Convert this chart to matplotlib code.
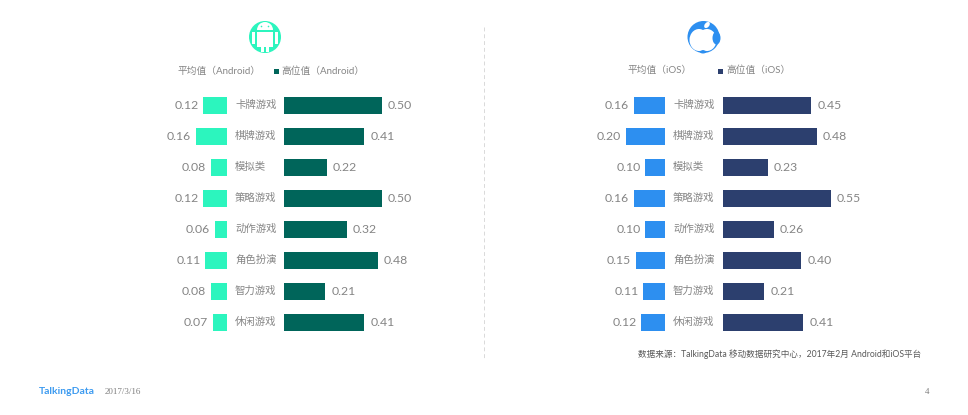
# encoding: UTF-8
import matplotlib
matplotlib.use('Agg')
import matplotlib.pyplot as plt
from matplotlib.patches import Circle, Ellipse, Rectangle, Wedge

plt.rcParams['font.family'] = ['Lato', 'Noto Sans CJK SC', 'DejaVu Sans']

categories = ['卡牌游戏', '棋牌游戏', '模拟类', '策略游戏', '动作游戏', '角色扮演', '智力游戏', '休闲游戏']
android_avg = [0.12, 0.16, 0.08, 0.12, 0.06, 0.11, 0.08, 0.07]
android_high = [0.50, 0.41, 0.22, 0.50, 0.32, 0.48, 0.21, 0.41]
ios_avg = [0.16, 0.20, 0.10, 0.16, 0.10, 0.15, 0.11, 0.12]
ios_high = [0.45, 0.48, 0.23, 0.55, 0.26, 0.40, 0.21, 0.41]

W, H = 968, 415
TEXT_GRAY = '#858585'
ROW_TOP = 90       # 第一行上边界
ROW_H = 31
N = len(categories)

fig = plt.figure(figsize=(W / 100, H / 100), dpi=100, facecolor='white')

# 像素坐标的覆盖层，放文字和图标
bg = fig.add_axes([0, 0, 1, 1])
bg.set_xlim(0, W)
bg.set_ylim(H, 0)
bg.axis('off')


def barAxes(x0, x1, xmax, invert):
    ax = fig.add_axes([x0 / W, 1 - (ROW_TOP + ROW_H * N) / H, (x1 - x0) / W, ROW_H * N / H])
    ax.set_ylim(N - 0.5, -0.5)
    ax.set_xlim(xmax, 0) if invert else ax.set_xlim(0, xmax)
    ax.axis('off')
    return ax


def drawPanel(avg, high, avgColor, highColor, avgRight, highLeft, labelX):
    scale = 196.0
    axAvg = barAxes(avgRight - 0.3 * scale, avgRight, 0.3, True)
    axHigh = barAxes(highLeft, highLeft + 0.6 * scale, 0.6, False)
    y = list(range(N))
    axAvg.barh(y, avg, height=0.58, color=avgColor)
    axHigh.barh(y, high, height=0.58, color=highColor)
    for i in y:
        axAvg.annotate('%.2f' % avg[i], (avg[i], i), xytext=(-5, 0), textcoords='offset pixels',
                       ha='right', va='center', fontsize=8.8, color=TEXT_GRAY)
        axHigh.annotate('%.2f' % high[i], (high[i], i), xytext=(6, 0), textcoords='offset pixels',
                        ha='left', va='center', fontsize=8.8, color=TEXT_GRAY)
        bg.text(labelX, ROW_TOP + ROW_H * (i + 0.5) - 0.5, categories[i], ha='left', va='center',
                fontsize=7.5, color=TEXT_GRAY)


drawPanel(android_avg, android_high, '#2CF5BE', '#00655A', 227, 284, 235)
drawPanel(ios_avg, ios_high, '#2D8FF0', '#2C3F6E', 665, 723, 673)

# 图例
bg.text(178, 71.5, '平均值（Android）', fontsize=7, color=TEXT_GRAY, va='center')
bg.add_patch(Rectangle((274, 69.5), 4.5, 4.5, color='#00655A', lw=0))
bg.text(281, 71.5, '高位值（Android）', fontsize=7, color=TEXT_GRAY, va='center')
bg.text(628, 70.5, '平均值（iOS）', fontsize=7, color=TEXT_GRAY, va='center')
bg.add_patch(Rectangle((718, 69.5), 4.5, 4.5, color='#2C3F6E', lw=0))
bg.text(726, 70.5, '高位值（iOS）', fontsize=7, color=TEXT_GRAY, va='center')

# 中间虚线
bg.plot([483.5, 483.5], [27, 358], color='#d9d9d9', lw=0.7, ls=(0, (4, 3)))

# Android 图标
aColor = '#2CF5BE'
bg.add_patch(Circle((265, 37), 16, color=aColor, lw=0))
bg.add_patch(Wedge((265, 30), 8, 180, 360, color='white', lw=0))
bg.add_patch(Circle((261.5, 26.5), 0.8, color=aColor, lw=0))
bg.add_patch(Circle((268.5, 26.5), 0.8, color=aColor, lw=0))
bg.add_patch(Rectangle((257, 32), 16, 15, color='white', lw=0))
bg.add_patch(Rectangle((252, 32), 3, 12, color='white', lw=0))
bg.add_patch(Rectangle((275, 32), 3, 12, color='white', lw=0))
bg.add_patch(Rectangle((261, 47), 3, 5.5, color='white', lw=0))
bg.add_patch(Rectangle((266, 47), 3, 5.5, color='white', lw=0))

# iOS 图标
iColor = '#2D8FF0'
bg.add_patch(Circle((703.5, 37), 16, color=iColor, lw=0))
bg.add_patch(Ellipse((699, 40), 19, 22, color='white', lw=0))
bg.add_patch(Ellipse((707, 40), 19, 22, color='white', lw=0))
bg.add_patch(Ellipse((716.5, 38), 8, 13, color=iColor, lw=0))
bg.add_patch(Ellipse((703, 52), 6, 3, color=iColor, lw=0))
bg.add_patch(Ellipse((707, 25), 4.5, 7, angle=40, color='white', lw=0))

# 底部文字
bg.text(921, 354, '数据来源：TalkingData 移动数据研究中心，2017年2月 Android和iOS平台',
        fontsize=6.2, color='#595959', ha='right', va='center')
bg.text(39, 391.5, 'TalkingData', fontsize=7.5, fontweight='bold', color='#3D9BF0', va='center')
bg.text(105, 392, '2017/3/16', fontsize=6.5, color='#7f7f7f', va='center', family='Liberation Serif')
bg.text(929, 392, '4', fontsize=6.5, color='#7f7f7f', va='center', ha='right', family='Liberation Serif')

plt.savefig('out.png', dpi=100)
